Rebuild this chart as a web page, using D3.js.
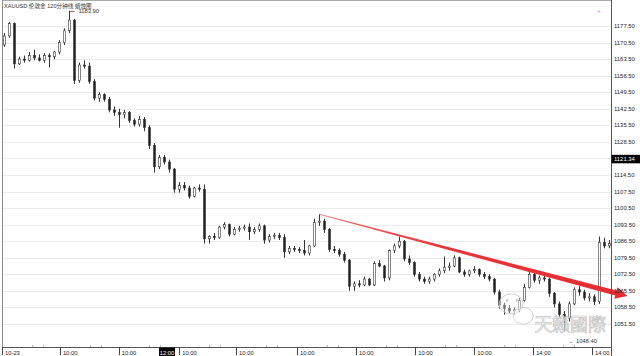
<!DOCTYPE html>
<html><head><meta charset="utf-8">
<script src="https://cdn.jsdelivr.net/npm/d3@7"></script>
<style>body{margin:0;background:#fff}svg{display:block}text{font-family:"Liberation Sans",Arial,"Noto Sans CJK SC",sans-serif}</style>
</head><body><svg id="c" width="640" height="356"></svg>
<script>
// ---------- data ----------
const opens = [1169.5,1173.3,1178.5,1161.5,1163.5,1163.0,1165.0,1164.0,1163.0,1165.0,1164.5,1166.5,1170.5,1175.5,1180.0,1154.5,1161.0,1160.5,1154.0,1147.0,
1148.5,1146.5,1142.0,1141.0,1140.0,1141.0,1137.5,1136.0,1138.0,1134.5,1127.0,1118.0,1122.0,1120.0,1117.0,1108.5,1110.0,1109.0,1105.5,1109.0,
1108.5,1087.5,1088.5,1088.0,1092.5,1093.5,1089.5,1091.5,1092.0,1092.5,1090.5,1091.5,1093.0,1087.0,1088.5,1089.0,1088.0,1082.0,1083.5,1083.0,
1082.5,1081.5,1084.5,1094.5,1095.0,1091.5,1083.0,1082.5,1081.0,1078.5,1067.5,1068.5,1068.0,1070.5,1068.0,1077.0,1076.0,1071.0,1082.5,1084.5,
1086.5,1079.0,1077.5,1072.5,1070.5,1069.5,1070.5,1072.5,1074.0,1075.5,1076.0,1079.5,1073.5,1072.5,1074.0,1074.5,1072.5,1071.5,1070.5,1065.0,
1059.5,1058.0,1057.0,1057.5,1061.5,1067.0,1072.5,1070.0,1071.0,1070.5,1064.5,1060.0,1055.5,1054.0,1060.0,1066.0,1065.0,1062.5,1063.0,1061.0,
1086.0,1084.5];
const highs = [1174.5,1179.2,1179.0,1164.5,1165.0,1166.5,1167.5,1165.5,1166.0,1166.0,1167.0,1171.5,1176.5,1183.9,1180.5,1162.0,1163.0,1162.0,1155.0,1149.5,
1149.0,1147.5,1143.5,1142.5,1142.0,1141.5,1138.5,1139.5,1139.0,1135.5,1128.0,1123.0,1123.0,1121.0,1117.5,1111.5,1111.5,1110.0,1109.5,1110.5,
1110.5,1089.0,1090.0,1093.0,1094.5,1094.0,1092.5,1093.0,1093.5,1094.0,1092.5,1094.0,1093.5,1089.5,1090.0,1090.0,1089.5,1084.5,1084.5,1084.0,
1087.0,1085.0,1096.0,1098.0,1096.0,1092.0,1084.5,1083.5,1082.0,1079.0,1069.5,1070.0,1071.5,1071.0,1078.0,1078.5,1076.5,1083.0,1085.5,1088.5,
1087.0,1080.5,1078.0,1073.5,1071.5,1071.5,1073.0,1075.0,1080.0,1077.5,1080.5,1080.0,1074.5,1074.5,1076.0,1075.0,1073.5,1072.5,1071.0,1066.0,
1060.5,1059.5,1058.5,1062.5,1068.5,1074.0,1073.0,1072.0,1072.5,1071.0,1065.0,1061.0,1057.0,1061.0,1067.0,1067.5,1066.0,1064.5,1064.0,1088.5,
1088.0,1087.0];
const lows = [1168.7,1172.5,1159.5,1161.0,1162.0,1162.5,1163.0,1162.5,1162.0,1160.0,1163.5,1165.5,1169.5,1174.5,1153.0,1153.5,1159.5,1153.0,1146.0,1145.5,
1145.5,1141.0,1139.5,1134.5,1138.5,1136.5,1135.0,1135.0,1133.0,1125.5,1115.5,1117.0,1119.0,1115.5,1107.0,1107.0,1108.0,1104.5,1105.0,1107.5,
1085.5,1085.5,1087.0,1087.5,1091.5,1088.5,1089.0,1090.5,1091.0,1087.0,1089.5,1090.5,1085.5,1086.0,1087.5,1087.0,1079.5,1081.0,1082.0,1081.5,
1080.5,1080.5,1084.0,1093.0,1090.0,1082.0,1081.5,1080.0,1077.5,1065.5,1065.5,1067.0,1067.5,1067.5,1067.5,1075.5,1069.5,1070.0,1081.5,1083.5,
1078.0,1076.5,1071.5,1069.5,1068.5,1068.5,1069.5,1071.5,1073.0,1074.0,1075.5,1073.0,1071.5,1071.5,1073.0,1071.5,1070.5,1069.5,1064.0,1058.0,
1055.5,1056.0,1055.5,1056.5,1061.0,1066.5,1069.0,1068.5,1069.5,1063.0,1058.5,1054.5,1048.4,1052.5,1059.5,1063.5,1061.5,1061.0,1059.5,1060.0,
1083.5,1083.5];
const closes = [1173.3,1178.5,1161.5,1163.5,1163.0,1165.0,1164.0,1163.0,1165.0,1164.5,1166.5,1170.5,1175.5,1180.0,1154.5,1161.0,1160.5,1154.0,1147.0,1148.5,
1146.5,1142.0,1141.0,1140.0,1141.0,1137.5,1136.0,1138.0,1134.5,1127.0,1118.0,1122.0,1120.0,1117.0,1108.5,1110.0,1109.0,1105.5,1109.0,1108.5,
1087.5,1088.5,1088.0,1092.5,1093.5,1089.5,1091.5,1092.0,1092.5,1090.5,1091.5,1093.0,1087.0,1088.5,1089.0,1088.0,1082.0,1083.5,1083.0,1082.5,
1081.5,1084.5,1094.5,1095.0,1091.5,1083.0,1082.5,1081.0,1078.5,1067.5,1068.5,1068.0,1070.5,1068.0,1077.0,1076.0,1071.0,1082.5,1084.5,1086.5,
1079.0,1077.5,1072.5,1070.5,1069.5,1070.5,1072.5,1074.0,1075.5,1076.0,1079.5,1073.5,1072.5,1074.0,1074.5,1072.5,1071.5,1070.5,1065.0,1059.5,
1058.0,1057.0,1057.5,1061.5,1067.0,1072.5,1070.0,1071.0,1070.5,1064.5,1060.0,1055.5,1054.0,1060.0,1066.0,1065.0,1062.5,1063.0,1061.0,1086.0,
1084.5,1085.5];

const priceTicks = [1177.50,1170.50,1163.50,1156.50,1149.50,1142.50,1135.50,1128.50,1121.50,1114.50,1107.50,1100.50,1093.50,1086.50,1079.50,1072.50,1065.50,1058.50,1051.50];
const majorTickPos = [0,11.6,23.4,35.5,46.9,59.1,70.9,82.8,94.6,106.4,118.2];
const majorTickLabels = ["10-23","10:00","10:00","10:00","10:00","10:00","10:00","10:00","10:00","14:00","14:00"];
const minorTickPos = [6,8.2,17.6,19.8,29.4,31.6,41.5,43.7,52.9,55.1,65.1,67.3,76.9,79.1,88.8,91,100.6,102.8,112.4,114.6];
const title = "XAUUSD 伦敦金 120分钟线 蜡烛图";
const highMark = {index:13, value:1183.90, label:"1183.90"};
const lowMark = {index:112, value:1048.40, label:"1048.40"};
const lastPrice = {value:1121.34, label:"1121.34"};
const cursorTime = {pos:33.06, label:"12:00"};
const trend = {i0:63.5, p0:1098.0, i1:125.3, p1:1063.3};
const watermark = "天籁國際";

// ---------- layout ----------
const W=640,H=356, L=2, R=611, T=0, B=347;
const N = closes.length;
const svg = d3.select("#c");
const x = d3.scaleBand().domain(d3.range(N)).range([L,R]).paddingInner(0.36).paddingOuter(0.18);
const xPos = d3.scaleLinear().domain([0,N]).range([L,R]);
const y = d3.scaleLinear().domain([1051.5,1177.5]).range([324,26]);

// gridlines
svg.append("g").selectAll("line").data(priceTicks).join("line")
  .attr("x1",L).attr("x2",R)
  .attr("y1",d=>Math.round(y(d))+0.5).attr("y2",d=>Math.round(y(d))+0.5)
  .attr("stroke","#ececec").attr("stroke-width",1);

// candles
const bars = d3.range(N).map(i=>({i,o:opens[i],h:highs[i],l:lows[i],c:closes[i]}));
const cg = svg.append("g");
const cx = d=>Math.round(x(d.i)+x.bandwidth()/2)+0.5;
cg.selectAll("line").data(bars).join("line")
  .attr("x1",cx).attr("x2",cx)
  .attr("y1",d=>y(d.h)).attr("y2",d=>y(d.l))
  .attr("stroke","#333").attr("stroke-width",1);
cg.selectAll("rect").data(bars).join("rect")
  .attr("x",d=>cx(d)-1).attr("width",2)
  .attr("y",d=>y(Math.max(d.o,d.c)))
  .attr("height",d=>Math.max(1,Math.abs(y(d.o)-y(d.c))))
  .attr("fill",d=>d.c>=d.o?"#fff":"#222")
  .attr("stroke","#333").attr("stroke-width",0.6);

// high / low marks
const hx = cx(bars[highMark.index]), hy = y(highMark.value);
svg.append("line").attr("x1",hx).attr("x2",hx+5).attr("y1",hy+0.5).attr("y2",hy+0.5).attr("stroke","#444").attr("stroke-width",0.8);
svg.append("text").attr("x",hx+9).attr("y",hy+2).attr("font-size",5.8).attr("fill","#333").text(highMark.label);
const lx = cx(bars[lowMark.index]), ly = y(lowMark.value);
svg.append("text").attr("x",lx+4).attr("y",ly+12).attr("font-size",5.8).attr("fill","#333").text("\u2190 "+lowMark.label);

// watermark
const wm = svg.append("g").attr("fill","none").attr("stroke","#c9c9c9").attr("stroke-width",0.9);
wm.append("ellipse").attr("cx",xPos(102.0)).attr("cy",y(1060.0)).attr("rx",12).attr("ry",10).attr("fill","rgba(255,255,255,0.35)");
wm.append("ellipse").attr("cx",xPos(104.4)).attr("cy",y(1055.0)).attr("rx",10).attr("ry",8.5).attr("fill","rgba(255,255,255,0.35)");
wm.append("circle").attr("cx",xPos(101.2)).attr("cy",y(1061.5)).attr("r",1).attr("fill","#c9c9c9");
wm.append("circle").attr("cx",xPos(103.2)).attr("cy",y(1061.5)).attr("r",1).attr("fill","#c9c9c9");
svg.append("text").attr("x",xPos(106.6)).attr("y",y(1048.6)).attr("font-size",18)
  .attr("font-family","'Noto Sans CJK TC','Noto Sans CJK SC',sans-serif")
  .attr("fill","rgba(240,240,240,0.6)").attr("stroke","#c4c4c4").attr("stroke-width",0.7)
  .text(watermark);

// trend line (tapered arrow)
const x0=xPos(trend.i0), y0=y(trend.p0), x1=xPos(trend.i1), y1=y(trend.p1);
const len=Math.hypot(x1-x0,y1-y0), ux=(x1-x0)/len, uy=(y1-y0)/len, nx=-uy, ny=ux;
const headLen=12, headW=6, w0=0.4, w1=2.7;
const bx=x1-ux*headLen, by=y1-uy*headLen;
const poly=[[x0+nx*w0,y0+ny*w0],[bx+nx*w1,by+ny*w1],[bx+nx*headW,by+ny*headW],[x1,y1],
  [bx-nx*headW,by-ny*headW],[bx-nx*w1,by-ny*w1],[x0-nx*w0,y0-ny*w0]];
const grad = svg.append("defs").append("linearGradient").attr("id","tg").attr("gradientUnits","userSpaceOnUse")
  .attr("x1",x0).attr("y1",y0).attr("x2",x1).attr("y2",y1);
grad.append("stop").attr("offset","0").attr("stop-color","#f07070");
grad.append("stop").attr("offset","0.4").attr("stop-color","#e8343a");
grad.append("stop").attr("offset","1").attr("stop-color","#e52d33");
svg.append("path").attr("d",d3.line()(poly)+"Z").attr("fill","url(#tg)");

// frame
svg.append("line").attr("x1",L).attr("x2",R).attr("y1",0.5).attr("y2",0.5).attr("stroke","#aaa");
svg.append("line").attr("x1",L+0.5).attr("x2",L+0.5).attr("y1",0).attr("y2",B).attr("stroke","#888");
svg.append("line").attr("x1",R+0.5).attr("x2",R+0.5).attr("y1",0).attr("y2",B+9).attr("stroke","#555");
svg.append("line").attr("x1",L).attr("x2",R).attr("y1",B+0.5).attr("y2",B+0.5).attr("stroke","#555");

// title
svg.append("text").attr("x",4).attr("y",8).attr("font-size",5.6).attr("fill","#333").text(title);
// pink marker
svg.append("text").attr("x",xPos(119.6)).attr("y",13).attr("font-size",6).attr("fill","#e060e0").attr("text-anchor","middle").text("+");

// right axis labels
svg.append("g").selectAll("text").data(priceTicks.filter(d=>Math.abs(d-lastPrice.value)>1)).join("text")
  .attr("x",R+3).attr("y",d=>y(d)+2).attr("font-size",5.9).attr("fill","#222")
  .text(d=>d.toFixed(2));
// last price box
const lpY=y(lastPrice.value);
svg.append("rect").attr("x",R+0.5).attr("y",lpY-4).attr("width",W-R).attr("height",8.5).attr("fill","#000");
svg.append("text").attr("x",R+3).attr("y",lpY+2.2).attr("font-size",5.9).attr("fill","#fff").text(lastPrice.label);

// bottom axis ticks
const ax = svg.append("g");
ax.selectAll("line.mn").data(minorTickPos).join("line").attr("class","mn")
  .attr("x1",d=>Math.round(xPos(d))+0.5).attr("x2",d=>Math.round(xPos(d))+0.5)
  .attr("y1",B-2).attr("y2",B).attr("stroke","#bbb");
ax.selectAll("line.mj").data(majorTickPos).join("line").attr("class","mj")
  .attr("x1",d=>Math.round(xPos(d))+0.5).attr("x2",d=>Math.round(xPos(d))+0.5)
  .attr("y1",B).attr("y2",B+8).attr("stroke","#444");
ax.selectAll("text").data(majorTickPos).join("text")
  .attr("x",d=>xPos(d)+3).attr("y",B+7.5).attr("font-size",5.8).attr("fill","#222")
  .text((d,i)=>majorTickLabels[i]);
// cursor time box
const ctx=xPos(cursorTime.pos);
svg.append("rect").attr("x",ctx-8).attr("y",B+0.5).attr("width",16).attr("height",H-B).attr("fill","#000");
svg.append("text").attr("x",ctx).attr("y",B+7.5).attr("text-anchor","middle").attr("font-size",5.8).attr("fill","#fff").text(cursorTime.label);
</script></body></html>
